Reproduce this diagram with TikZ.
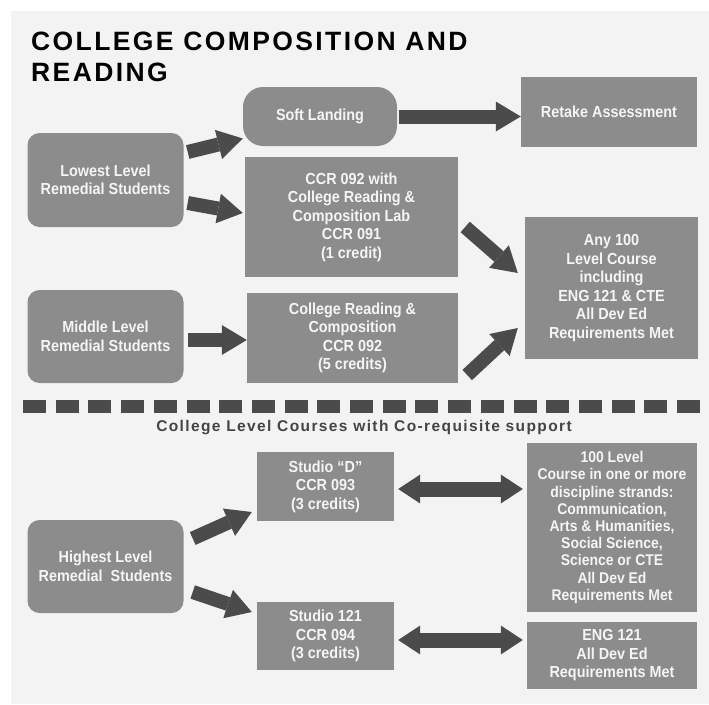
\documentclass[tikz,border=0pt]{standalone}
\usepackage{fontspec}
\usepackage{tikz}
\usetikzlibrary{arrows.meta, positioning}

\newfontfamily\titlefont{Liberation Sans}[LetterSpace=9]
\newfontfamily\boxfont{Liberation Sans}[FakeStretch=0.9]
\newfontfamily\notefont{Liberation Sans}[LetterSpace=9]

\definecolor{panelgray}{RGB}{243,243,243}
\definecolor{boxgray}{RGB}{140,140,140}
\definecolor{boxtext}{RGB}{245,245,245}
\definecolor{arrowgray}{RGB}{75,75,75}
\definecolor{notegray}{RGB}{68,68,68}

\tikzset{
  box/.style={fill=boxgray, text=boxtext, align=center, inner sep=2pt,
    font=\boxfont\bfseries\fontsize{16}{18.5}\selectfont},
  roundbox/.style={box, rounded corners=12pt},
  flow/.style={draw=arrowgray, line width=14pt,
    -{Triangle[length=25pt,width=30pt,line width=0pt]}},
  twoway/.style={draw=arrowgray, line width=15pt,
    {Triangle[length=22pt,width=29pt,line width=0pt]}-{Triangle[length=22pt,width=29pt,line width=0pt]}},
  sepline/.style={draw=arrowgray, line width=13pt, dash pattern=on 23pt off 9.7pt}
}

\begin{document}
\begin{tikzpicture}[x=1pt,y=-1pt]
    \useasboundingbox (0,0) rectangle (709,704);
    \fill[white] (0,0) rectangle (709,704);
    \fill[panelgray] (11,11) rectangle (709,704);

    \node[anchor=north west, inner sep=0pt, align=left,
      font=\titlefont\bfseries\fontsize{26.5}{31}\selectfont] (title) at (31,32)
      {COLLEGE COMPOSITION AND\\READING};

    % upper part
    \node[roundbox, minimum width=156pt, minimum height=94pt] (low) at (105.5,180) {Lowest Level\\Remedial Students};
    \node[roundbox, rounded corners=20pt, minimum width=154pt, minimum height=59pt] (soft) at (320,116.5) {Soft Landing};
    \node[box, minimum width=176pt, minimum height=70pt] (retake) at (609,112) {Retake Assessment};
    \node[box, minimum width=213pt, minimum height=120pt] (lab) at (351.5,217) {CCR 092 with\\College Reading \&\\Composition Lab\\CCR 091\\(1 credit)};
    \node[box, minimum width=173pt, minimum height=142pt] (any) at (611.5,288) {Any 100\\Level Course\\including\\ENG 121 \& CTE\\All Dev Ed\\Requirements Met};
    \node[roundbox, minimum width=156pt, minimum height=93pt] (mid) at (105.5,336.5) {Middle Level\\Remedial Students};
    \node[box, minimum width=211pt, minimum height=90pt] (ccr) at (352.5,338) {College Reading \&\\Composition\\CCR 092\\(5 credits)};

    \draw[flow] ([shift={(4,-28)}]low.east) -- ([shift={(0,22)}]soft.west);
    \draw[flow] ([shift={(4,23)}]low.east) -- ([shift={(-2,-4)}]lab.west);
    \draw[flow] ([shift={(2,0)}]soft.east) -- ([shift={(0,4.5)}]retake.west);
    \draw[flow] ([shift={(7,10)}]lab.east) -- ([shift={(-7,-15)}]any.west);
    \draw[flow] ([shift={(9,37)}]ccr.east) -- ([shift={(-7,40)}]any.west);
    \draw[flow] ([shift={(4,3.5)}]mid.east) -- ([shift={(0,2)}]ccr.west);

    % separator
    \coordinate (sepL) at (23,406);
    \coordinate (sepR) at (701,406);
    \draw[sepline] (sepL) -- (sepR);
    \node[anchor=base, inner sep=0pt, text=notegray,
      font=\notefont\bfseries\fontsize{15.5}{18}\selectfont] (coreq) at (364,431)
      {College Level Courses with Co-requisite support};

    % lower part
    \node[roundbox, minimum width=156pt, minimum height=93pt] (high) at (105.5,566.5) {Highest Level\\Remedial\ \ Students};
    \node[box, minimum width=137pt, minimum height=69pt] (studiod) at (325.5,486.5) {Studio “D”\\CCR 093\\(3 credits)};
    \node[box, minimum width=137pt, minimum height=68pt] (studio) at (325.5,636) {Studio 121\\CCR 094\\(3 credits)};
    \node[box, minimum width=170pt, minimum height=169pt,
      font=\boxfont\bfseries\fontsize{15.5}{17.2}\selectfont] (hundred) at (612,527.5)
      {100 Level\\Course in one or more\\discipline strands:\\Communication,\\Arts \& Humanities,\\Social Science,\\Science or CTE\\All Dev Ed\\Requirements Met};
    \node[box, minimum width=170pt, minimum height=67pt] (eng) at (612,655.5) {ENG 121\\All Dev Ed\\Requirements Met};

    \draw[flow] ([shift={(9,-28)}]high.east) -- ([shift={(-5,25.5)}]studiod.west);
    \draw[flow] ([shift={(9,25.5)}]high.east) -- ([shift={(-5,-24)}]studio.west);
    \draw[twoway] ([shift={(4,2.5)}]studiod.east) -- ([shift={(-4,-38.5)}]hundred.west);
    \draw[twoway] ([shift={(4,4)}]studio.east) -- ([shift={(-4,-15.5)}]eng.west);
\end{tikzpicture}
\end{document}
